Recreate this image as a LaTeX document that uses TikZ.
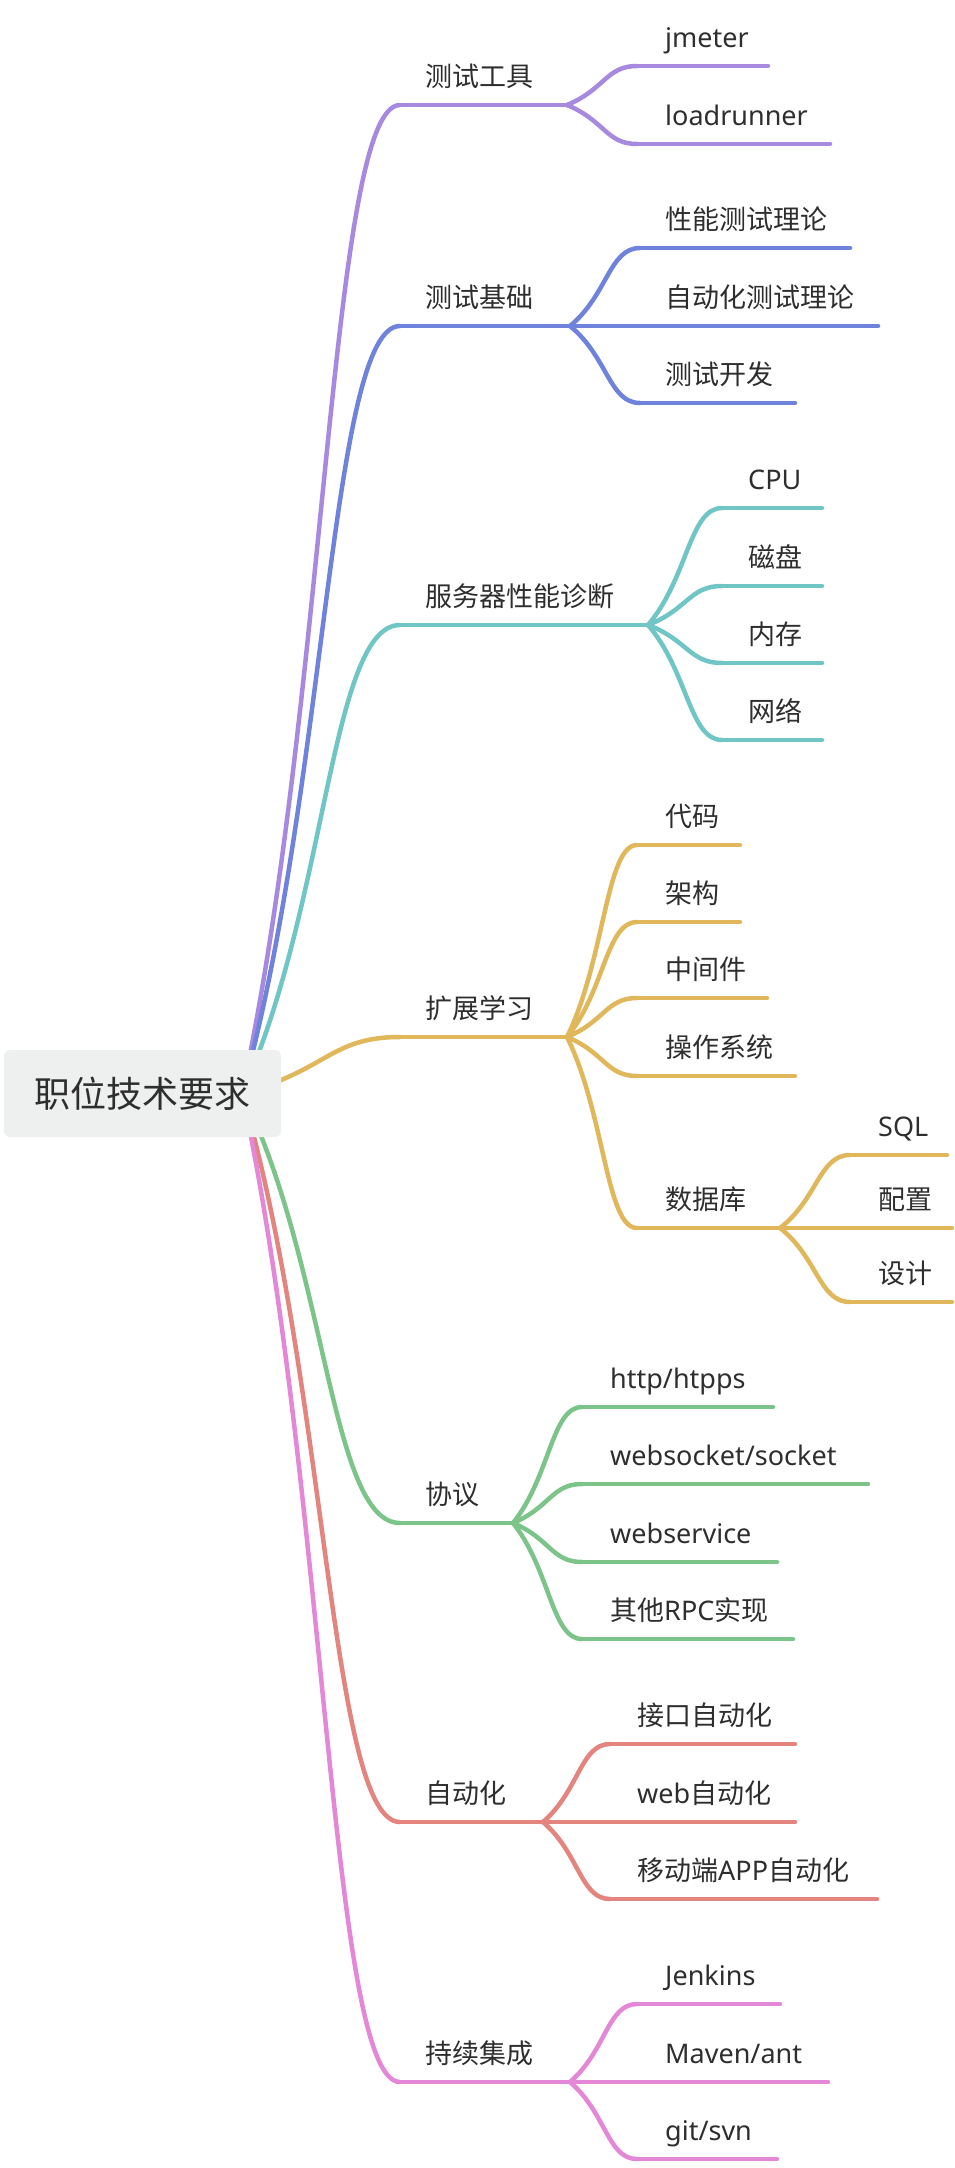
\documentclass[tikz,border=0pt]{standalone}
\usepackage{fontspec}
\setmainfont{Noto Sans CJK SC}
\newfontfamily\lat{Noto Sans}
\usetikzlibrary{calc}
\definecolor{cPur}{HTML}{A78AE0}
\definecolor{cBlu}{HTML}{6F82DC}
\definecolor{cTea}{HTML}{70C5C5}
\definecolor{cGol}{HTML}{E0B75A}
\definecolor{cGre}{HTML}{7CC489}
\definecolor{cSal}{HTML}{E4847F}
\definecolor{cPin}{HTML}{E487D6}
\definecolor{rootfill}{HTML}{EEF0EF}
\definecolor{txt}{HTML}{2E2E2E}
\tikzset{
  br/.style={line width=4.5pt, line cap=round, line join=round},
  lbl/.style={anchor=base west, inner sep=0pt, font=\fontsize{27}{30}\selectfont, text=txt},
}
\newcommand\bcurve[3]{\draw[br,#1] let \p1=(#2), \p2=(#3) in (\p1) .. controls ({\x1+0.54*(\x2-\x1)},{\y1+0.4*(\y2-\y1)}) and ({\x1+0.56*(\x2-\x1)},\y2) .. (\p2);}
% #1 name, #2 colour, #3 parent fork, #4 x start, #5 x end, #6 y, #7 text x, #8 text
\newcommand\leaf[8]{%
  \coordinate (#1s) at (#4,#6);
  \coordinate (#1e) at (#5,#6);
  \bcurve{#2}{#3}{#1s}
  \draw[br,#2] (#1s) -- (#1e);
  \node[lbl] (#1) at (#7,#6-19) {#8};
}
\begin{document}
\begin{tikzpicture}[x=1pt,y=-1pt]
\useasboundingbox (0,0) rectangle (954,2168);
\coordinate (o) at (242,1093);
% branch 1
\leaf{ba}{cPur}{o}{400}{567}{105}{425}{测试工具}
\coordinate (baf) at (567,105);
\leaf{baa}{cPur}{baf}{637}{768}{66}{665}{\lat jmeter}
\leaf{bab}{cPur}{baf}{637}{830}{144}{665}{\lat loadrunner}
% branch 2
\leaf{bb}{cBlu}{o}{400}{570}{326}{425}{测试基础}
\coordinate (bbf) at (570,326);
\leaf{bba}{cBlu}{bbf}{640}{850}{248}{665}{性能测试理论}
\leaf{bbb}{cBlu}{bbf}{640}{878}{326}{665}{自动化测试理论}
\leaf{bbc}{cBlu}{bbf}{640}{795}{403}{665}{测试开发}
% branch 3
\leaf{bc}{cTea}{o}{400}{648}{625}{425}{服务器性能诊断}
\coordinate (bcf) at (648,625);
\leaf{bca}{cTea}{bcf}{722}{822}{508}{748}{\lat CPU}
\leaf{bcb}{cTea}{bcf}{722}{822}{586}{748}{磁盘}
\leaf{bcc}{cTea}{bcf}{722}{822}{663}{748}{内存}
\leaf{bcd}{cTea}{bcf}{722}{822}{740}{748}{网络}
% branch 4
\leaf{bd}{cGol}{o}{400}{567}{1037}{425}{扩展学习}
\coordinate (bdf) at (567,1037);
\leaf{bda}{cGol}{bdf}{637}{740}{845}{665}{代码}
\leaf{bdb}{cGol}{bdf}{637}{740}{922}{665}{架构}
\leaf{bdc}{cGol}{bdf}{637}{767}{998}{665}{中间件}
\leaf{bdd}{cGol}{bdf}{637}{795}{1076}{665}{操作系统}
\leaf{bde}{cGol}{bdf}{637}{780}{1228}{665}{数据库}
\coordinate (bdef) at (780,1228);
\leaf{bdea}{cGol}{bdef}{850}{947}{1155}{878}{\lat SQL}
\leaf{bdeb}{cGol}{bdef}{850}{952}{1228}{878}{配置}
\leaf{bdec}{cGol}{bdef}{850}{952}{1302}{878}{设计}
% branch 5
\leaf{be}{cGre}{o}{400}{513}{1523}{425}{协议}
\coordinate (bef) at (513,1523);
\leaf{bea}{cGre}{bef}{582}{773}{1407}{610}{\lat http/htpps}
\leaf{beb}{cGre}{bef}{582}{868}{1484}{610}{\lat websocket/socket}
\leaf{bec}{cGre}{bef}{582}{777}{1562}{610}{\lat webservice}
\leaf{bed}{cGre}{bef}{582}{793}{1639}{610}{其他{\lat RPC}实现}
% branch 6
\leaf{bf}{cSal}{o}{400}{543}{1822}{425}{自动化}
\coordinate (bff) at (543,1822);
\leaf{bfa}{cSal}{bff}{610}{795}{1744}{637}{接口自动化}
\leaf{bfb}{cSal}{bff}{610}{795}{1822}{637}{{\lat web}自动化}
\leaf{bfc}{cSal}{bff}{610}{877}{1899}{637}{移动端{\lat APP}自动化}
% branch 7
\leaf{bg}{cPin}{o}{400}{570}{2082}{425}{持续集成}
\coordinate (bgf) at (570,2082);
\leaf{bga}{cPin}{bgf}{637}{780}{2004}{665}{\lat Jenkins}
\leaf{bgb}{cPin}{bgf}{637}{828}{2082}{665}{\lat Maven/ant}
\leaf{bgc}{cPin}{bgf}{637}{777}{2159}{665}{\lat git/svn}
% root
\node[fill=rootfill, rounded corners=6pt, minimum width=277pt, minimum height=87pt, inner sep=0pt, text=txt, font=\fontsize{36}{40}\selectfont] (root) at (142.5,1093.5) {职位技术要求};
\end{tikzpicture}
\end{document}
